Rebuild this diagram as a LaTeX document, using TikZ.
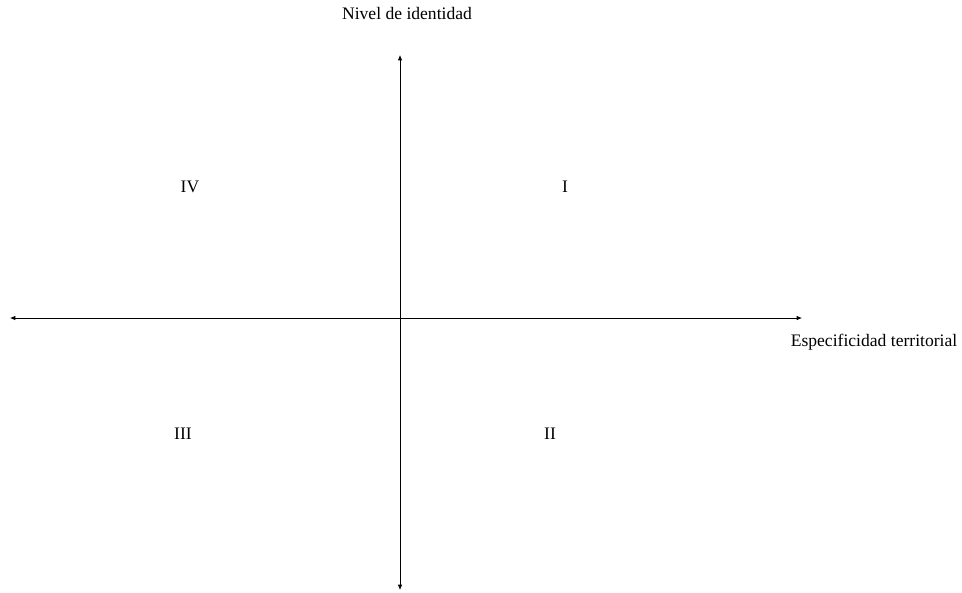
\documentclass[tikz,border=0pt]{standalone}
\usepackage{fontspec}
\setmainfont{Liberation Serif}
\usetikzlibrary{arrows.meta,positioning}
\tikzset{
  axis/.style={{Latex[length=3pt,width=2.5pt]}-{Latex[length=3pt,width=2.5pt]},thin,draw=black},
  quad/.style={font=\normalsize,inner sep=1pt},
  albl/.style={font=\normalsize,inner sep=1pt},
}
\begin{document}
\begin{tikzpicture}[x=0.02cm,y=-0.02cm]
\useasboundingbox (0,0) rectangle (962,592);
% axes
\coordinate (xl) at (10,318);
\coordinate (xr) at (802,318);
\coordinate (yt) at (400,55);
\coordinate (yb) at (400,590);
\draw[axis] (xl) -- (xr);
\draw[axis] (yb) -- (yt);
\node[albl] (ylab) at (407,13) {Nivel de identidad};
\node[albl] (xlab) at (874,342) {Especificidad territorial};
% quadrants
\node[quad] (q1) at (565,187) {I};
\node[quad] (q2) at (550,434) {II};
\node[quad] (q3) at (183,434) {III};
\node[quad] (q4) at (190,187) {IV};
\end{tikzpicture}
\end{document}
